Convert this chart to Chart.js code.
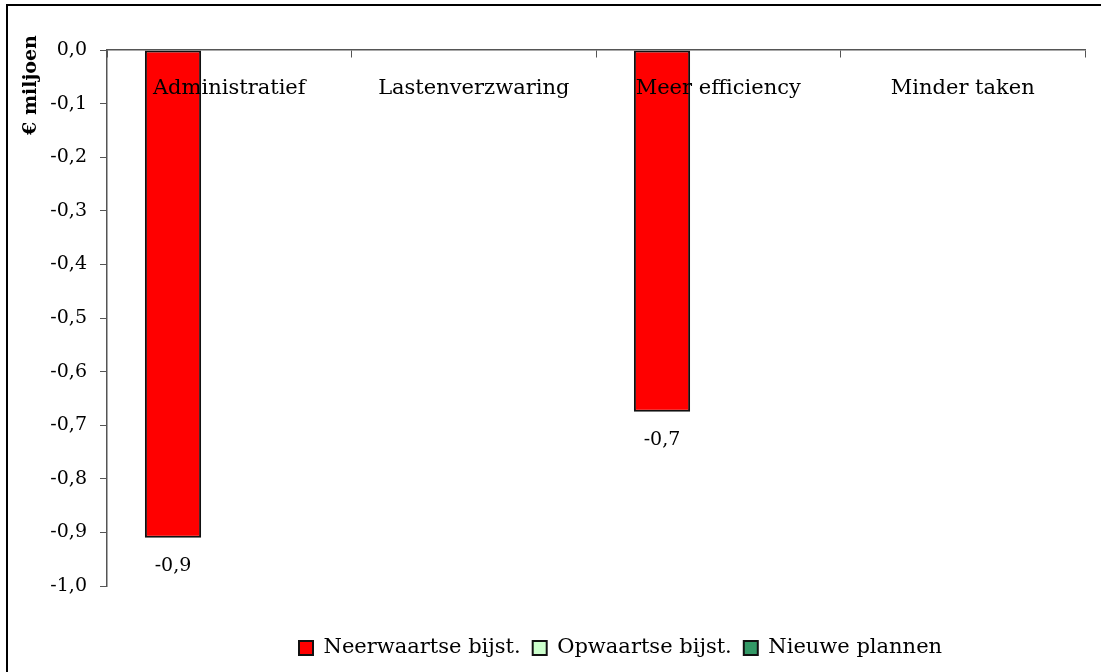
<!DOCTYPE html>
<html>
<head>
<meta charset="utf-8">
<script src="https://cdn.jsdelivr.net/npm/chart.js@4/dist/chart.umd.min.js"></script>
<style>
	html, body { margin: 0; padding: 0; background: #fff; overflow: hidden; }
</style>
</head>
<body>
<canvas id="myChart" width="1101" height="672"></canvas>
<script>
const categories = ['Administratief', 'Lastenverzwaring', 'Meer efficiency', 'Minder taken']
const seriesNames = ['Neerwaartse bijst.', 'Opwaartse bijst.', 'Nieuwe plannen']
const neerwaarts = [-0.91, null, -0.675, null]
const opwaarts = [null, null, null, null]
const nieuwePlannen = [null, null, null, null]
const seriesColors = ['#ff0000', '#ccffcc', '#339966']
const yTicks = { min: -1, max: 0, step: 0.1 }
const yTitle = '€ miljoen'

const FONT = 'DejaVu Serif'
const fmt = (v) => v.toFixed(1).replace('.', ',')

var canvas = document.getElementById('myChart')

// outer frame, only top and left edges fall inside the picture
const frame = {
	id: 'frame',
	beforeDraw(chart) {
		const ctx = chart.ctx
		ctx.save()
		ctx.strokeStyle = '#000'
		ctx.lineWidth = 2
		ctx.beginPath()
		ctx.moveTo(7, chart.height)
		ctx.lineTo(7, 5)
		ctx.lineTo(chart.width, 5)
		ctx.stroke()
		ctx.restore()
	},
}

// value labels under the bars of the first series
const valueLabels = {
	id: 'valueLabels',
	afterDatasetsDraw(chart) {
		const ctx = chart.ctx
		const meta = chart.getDatasetMeta(0)
		ctx.save()
		ctx.font = '19px "' + FONT + '"'
		ctx.fillStyle = '#000'
		ctx.textAlign = 'center'
		ctx.textBaseline = 'middle'
		meta.data.forEach((bar, i) => {
			const v = chart.data.datasets[0].data[i]
			if (v === null) return
			ctx.fillText(fmt(v), bar.x, bar.y + 28)
		})
		ctx.restore()
	},
}

// y title sits near the top of the axis, not centred
const axisTitle = {
	id: 'axisTitle',
	afterDraw(chart) {
		const ctx = chart.ctx
		ctx.save()
		ctx.translate(31, chart.chartArea.top + 35)
		ctx.rotate(-Math.PI / 2)
		ctx.font = 'bold 19px "' + FONT + '"'
		ctx.fillStyle = '#000'
		ctx.textAlign = 'center'
		ctx.textBaseline = 'middle'
		ctx.fillText(yTitle, 0, 0)
		ctx.restore()
	},
}

// move the legend to where the original has it
const legendShift = {
	id: 'legendShift',
	afterLayout(chart) {
		const lg = chart.legend
		if (!lg || !lg.lineWidths) return
		const pad = lg.options.labels.padding
		const rowStart = (lg.left + pad + lg.right - lg.lineWidths[0]) / 2
		const dx = 299 - rowStart
		const dy = 648 - (lg.top + pad + 10.5)
		lg.left += dx
		lg.right += dx
		lg.top += dy
		lg.bottom += dy
	},
}

const config = {
	type: 'bar',
	data: {
		labels: categories,
		datasets: [neerwaarts, opwaarts, nieuwePlannen].map((d, i) => ({
			label: seriesNames[i],
			data: d,
			backgroundColor: seriesColors[i],
			borderColor: '#111',
			borderWidth: 2,
			borderSkipped: false,
			categoryPercentage: 0.69,
			barPercentage: 1,
		})),
	},
	options: {
		responsive: false,
		animation: false,
		layout: { padding: { left: 0, right: 16, top: 50, bottom: 43 } },
		plugins: {
			tooltip: { enabled: false },
			legend: {
				position: 'bottom',
				labels: {
					font: { family: FONT, size: 21 },
					color: '#000',
					boxWidth: 14,
					boxHeight: 14,
					padding: 12,
				},
			},
		},
		scales: {
			x: {
				position: { y: 0 },
				grid: { display: true, drawOnChartArea: false, tickLength: 7, color: '#555', offset: true, z: 1 },
				border: { display: true, color: '#555', width: 1.5, z: 1 },
				ticks: { font: { family: FONT, size: 21 }, color: '#000', padding: 19, maxRotation: 0, z: 1 },
			},
			y: {
				min: yTicks.min,
				max: yTicks.max,
				afterFit: (s) => { s.width = 107 },
				grid: { display: true, drawOnChartArea: false, tickLength: 7, color: '#555' },
				border: { display: true, color: '#555', width: 1.5 },
				ticks: {
					stepSize: yTicks.step,
					font: { family: FONT, size: 19 },
					color: '#000',
					padding: 13,
					callback: (v) => fmt(v),
				},
			},
		},
	},
	plugins: [frame, valueLabels, axisTitle, legendShift],
}

const myChart = new Chart(canvas, config)
</script>
</body>
</html>
